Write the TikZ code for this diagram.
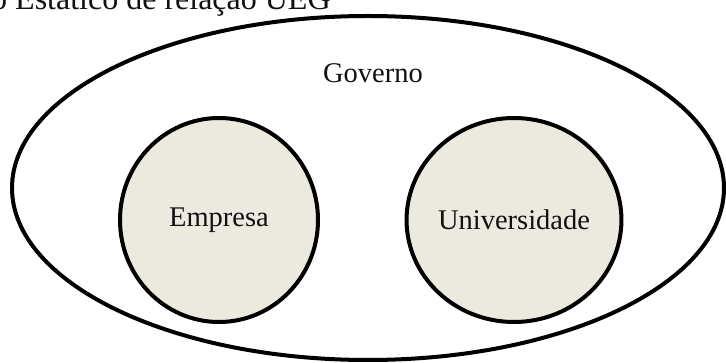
\documentclass[tikz,border=0pt]{standalone}
\usepackage{fontspec}
\setmainfont{Liberation Serif}
\usetikzlibrary{shapes.geometric}
\definecolor{diskfill}{RGB}{236,233,223}
\definecolor{inkcol}{RGB}{17,17,17}
\tikzset{
  outerring/.style={draw=black, line width=4pt, ellipse, inner sep=0pt},
  disk/.style={draw=black, line width=4pt, ellipse, fill=diskfill, inner sep=0pt,
    minimum width=198pt, minimum height=204pt, text=inkcol, font=\fontsize{28.5}{34}\selectfont},
  lbl/.style={text=inkcol, font=\fontsize{28.5}{34}\selectfont, inner sep=0pt}
}
\begin{document}
\begin{tikzpicture}[x=1pt, y=-1pt]
\useasboundingbox (0,0) rectangle (726,363);
\node[outerring, minimum width=712pt, minimum height=344pt] (gov) at (368,188) {};
\node[lbl, anchor=base] (govlbl) at (373,83) {Governo};
\node[disk] (emp) at (219,220) {Empresa};
\node[disk] (uni) at (514,220) {Universidade};
\node[lbl, anchor=base west, font=\fontsize{32}{38}\selectfont] (title) at (-9,10) {o Estático de relação UEG};
\end{tikzpicture}
\end{document}
